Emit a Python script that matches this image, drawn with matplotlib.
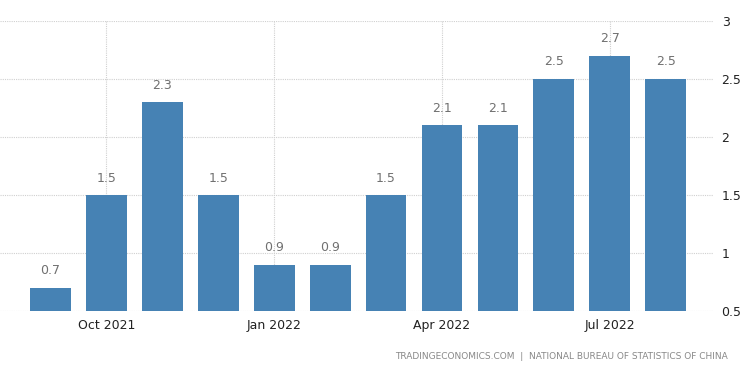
import matplotlib
matplotlib.use("Agg")
import matplotlib.pyplot as plt

months = ["Sep 2021", "Oct 2021", "Nov 2021", "Dec 2021", "Jan 2022", "Feb 2022",
          "Mar 2022", "Apr 2022", "May 2022", "Jun 2022", "Jul 2022", "Aug 2022"]
values = [0.7, 1.5, 2.3, 1.5, 0.9, 0.9, 1.5, 2.1, 2.1, 2.5, 2.7, 2.5]
tick_labels = ["Oct 2021", "Jan 2022", "Apr 2022", "Jul 2022"]
y_ticks = [0.5, 1, 1.5, 2, 2.5, 3]
y_tick_labels = ["0.5", "1", "1.5", "2", "2.5", "3"]
source = "TRADINGECONOMICS.COM  |  NATIONAL BUREAU OF STATISTICS OF CHINA"

fig = plt.figure(figsize=(7.5, 3.73), dpi=100)
ax = fig.add_axes([0.0, 0.166, 0.951, 0.778])

x = list(range(len(months)))
ax.bar(x, [v - 0.5 for v in values], bottom=0.5, width=0.73, color="#4682B4", zorder=3)
for xi, v in zip(x, values):
    ax.text(xi, v + 0.09, f"{v:g}", ha="center", va="bottom", fontsize=9, color="#707070", zorder=4)

ax.set_xlim(-0.903, 11.85)
ax.set_ylim(0.5, 3)
ax.set_yticks(y_ticks)
ax.set_yticklabels(y_tick_labels)
ax.yaxis.tick_right()
ax.tick_params(axis="y", length=0, pad=6, labelsize=9, colors="#222222")

tick_pos = [months.index(t) for t in tick_labels]
ax.set_xticks(tick_pos)
ax.set_xticklabels(tick_labels)
ax.tick_params(axis="x", length=0, pad=6, labelsize=9, colors="#222222")

ax.grid(True, axis="both", linestyle=(0, (1, 1)), color="#d0d0d0", linewidth=0.8, zorder=0)
for s in ax.spines.values():
    s.set_visible(False)

fig.text(0.971, 0.045, source, ha="right", va="center", fontsize=6.5, color="#888888")

fig.savefig("out.png", dpi=100)
